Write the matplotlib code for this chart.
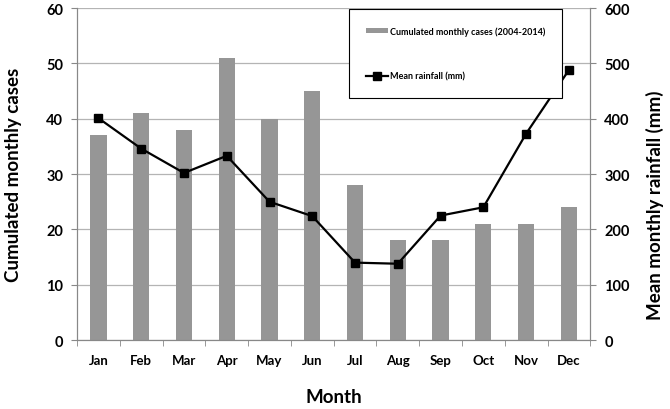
import matplotlib
matplotlib.use("Agg")
import matplotlib.pyplot as plt
import numpy as np

# ------------------------------------
# Data
# ------------------------------------
months = ["Jan", "Feb", "Mar", "Apr", "May", "Jun",
          "Jul", "Aug", "Sep", "Oct", "Nov", "Dec"]
cases = [37, 41, 38, 51, 40, 45, 28, 18, 18, 21, 21, 24]
rainfall = [401, 346, 302, 333, 250, 224, 140, 138, 225, 240, 373, 488]

plt.rcParams['font.family'] = ['Lato', 'DejaVu Sans']
plt.rcParams['font.weight'] = 'bold'

fig = plt.figure(figsize=(6.7, 4.1), dpi=100)
ax = fig.add_axes([0.115, 0.168, 0.766, 0.81])
x = np.arange(len(months))

ax.bar(x, cases, width=0.38, color="#969696", zorder=2,
       label="Cumulated monthly cases (2004-2014)")
ax.set_ylim(0, 60)
ax.set_xlim(-0.5, len(months) - 0.5)
ax.set_yticks(range(0, 61, 10))
ax.grid(axis="y", color="#b4b4b4", lw=0.9, zorder=0)
ax.set_axisbelow(True)
ax.set_xticks(x)
ax.set_xticklabels(months)
ax.set_xticks(np.arange(-0.5, len(months)), minor=True)
ax.tick_params(axis="x", which="major", length=0, labelsize=9.5, pad=10)
ax.tick_params(axis="x", which="minor", length=4, color="#888888")
ax.tick_params(axis="y", length=4, color="#888888", labelsize=10.5, pad=6)
for side in ("left", "bottom", "right"):
    ax.spines[side].set_color("#888888")
ax.spines["top"].set_visible(False)
ax.set_ylabel("Cumulated monthly cases", fontsize=13.5, fontweight="bold")
ax.yaxis.set_label_coords(-0.108, 0.5)
ax.set_xlabel("Month", fontsize=13.5, fontweight="bold", labelpad=16)

ax2 = ax.twinx()
ax2.plot(x, rainfall, "-s", color="black", lw=1.6, ms=5.5, zorder=3,
         label="Mean rainfall (mm)")
ax2.set_ylim(0, 600)
ax2.set_yticks(range(0, 601, 100))
ax2.tick_params(axis="y", length=4, color="#888888", labelsize=10.5, pad=6)
for side in ("left", "bottom", "right"):
    ax2.spines[side].set_color("#888888")
ax2.spines["top"].set_visible(False)
ax2.set_ylabel("Mean monthly rainfall (mm)", fontsize=13.5, fontweight="bold")
ax2.yaxis.set_label_coords(1.109, 0.41)

handles = ax.get_legend_handles_labels()[0] + ax2.get_legend_handles_labels()[0]
labels = ax.get_legend_handles_labels()[1] + ax2.get_legend_handles_labels()[1]
leg = ax2.legend(handles, labels, loc="upper left",
                 bbox_to_anchor=(0.53, 0.997), fontsize=6.5, fancybox=False,
                 edgecolor="black", framealpha=1, labelspacing=4.0,
                 borderpad=1.9, handlelength=2.4, handletextpad=0.2,
                 handleheight=0.5, borderaxespad=0)
leg.get_frame().set_linewidth(0.8)

fig.savefig("out.png", dpi=100)
